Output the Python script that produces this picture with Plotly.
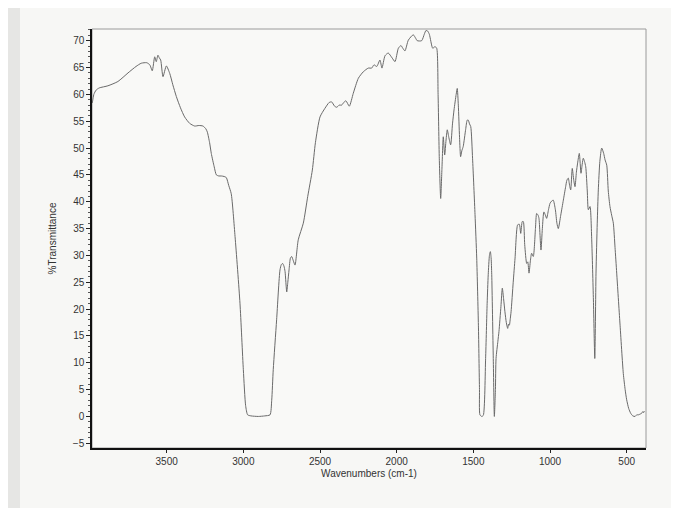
import plotly.graph_objects as go

wavenumbers = [
    3985, 3975, 3960, 3940, 3883, 3818, 3752, 3700, 3666, 3630, 3610, 3594, 3578, 3568, 3557, 3548,
    3539, 3524, 3502, 3480, 3460, 3437, 3410, 3383, 3350, 3317, 3290, 3263, 3245, 3235, 3220, 3209,
    3190, 3176, 3160, 3144, 3125, 3111, 3095, 3079, 3054, 3022, 3000, 2985, 2972, 2950, 2902, 2860,
    2826, 2815, 2805, 2783, 2761, 2752, 2744, 2735, 2728, 2717, 2710, 2702, 2693, 2685, 2674, 2663,
    2642, 2609, 2580, 2550, 2530, 2500, 2468, 2440, 2424, 2405, 2391, 2375, 2359, 2345, 2331, 2309,
    2283, 2250, 2218, 2185, 2163, 2148, 2130, 2109, 2096, 2076, 2055, 2030, 2011, 1989, 1972, 1960,
    1946, 1924, 1892, 1875, 1866, 1837, 1820, 1809, 1798, 1787, 1765, 1750, 1739, 1730, 1722, 1713,
    1705, 1696, 1687, 1678, 1670, 1660, 1648, 1636, 1626, 1612, 1605, 1598, 1590, 1583, 1575, 1566,
    1550, 1540, 1533, 1525, 1517, 1505, 1489, 1478, 1467, 1460, 1457, 1445, 1435, 1420, 1410, 1403,
    1395, 1389, 1384, 1380, 1370, 1363, 1356, 1352, 1340, 1333, 1320, 1311, 1303, 1294, 1285, 1276,
    1270, 1265, 1260, 1254, 1240, 1228, 1211, 1200, 1191, 1181, 1174, 1165, 1152, 1145, 1137, 1128,
    1120, 1109, 1095, 1087, 1078, 1072, 1059, 1050, 1040, 1030, 1022, 1010, 1000, 990, 979, 965,
    955, 946, 930, 913, 898, 890, 881, 872, 865, 855, 845, 837, 828, 820, 809, 798,
    790, 783, 775, 767, 757, 750, 739, 728, 717, 708, 700, 692, 685, 675, 663, 650,
    641, 630, 620, 609, 598, 587, 576, 565, 544, 522, 510, 500, 487, 474, 460, 445,
    435, 424, 415, 402, 395, 390, 385,
]

transmittance = [
    58.4, 60.0, 60.8, 61.2, 61.6, 62.4, 64.0, 65.2, 65.8, 65.9, 65.5, 64.4, 67.0, 66.1, 67.3, 66.8,
    66.4, 63.3, 65.3, 63.9, 61.8, 59.6, 57.5, 55.8, 54.6, 54.1, 54.2, 54.1, 53.6, 53.0, 51.0, 49.0,
    46.5, 45.0, 44.8, 44.8, 44.7, 44.5, 43.0, 41.5, 33.5, 21.1, 8.7, 2.0, 0.3, 0.1, 0.0, 0.1,
    0.3, 3.0, 8.7, 18.0, 27.3, 28.3, 28.5, 28.0, 27.0, 23.2, 25.0, 27.3, 29.5, 29.8, 29.0, 28.2,
    32.9, 36.0, 41.0, 45.9, 51.0, 55.8, 57.4, 58.5, 58.6, 57.8, 57.6, 58.0, 58.0, 58.5, 58.8, 57.8,
    60.2, 63.0, 64.2, 64.9, 64.9, 65.5, 65.2, 66.4, 64.9, 67.2, 67.7, 66.8, 66.1, 68.6, 69.1, 68.6,
    68.1, 70.1, 71.1, 70.4, 70.0, 70.0, 71.2, 71.9, 71.8, 71.2, 68.6, 68.9, 68.6, 60.0, 48.0, 40.6,
    46.0, 52.1, 48.7, 51.5, 53.4, 52.0, 50.6, 54.5, 57.1, 60.0, 61.1, 58.0, 52.0, 48.4, 49.5, 50.3,
    53.5, 55.2, 55.2, 54.5, 54.0, 48.0, 37.6, 29.5, 17.0, 5.0, 0.3, 0.0, 0.2, 10.8, 21.0, 26.4,
    30.0, 30.7, 29.5, 26.4, 10.8, 0.0, 5.0, 10.8, 14.0, 15.8, 20.5, 23.9, 22.0, 19.5, 17.5, 16.4,
    17.2, 17.0, 18.0, 19.5, 25.0, 29.5, 35.7, 35.8, 34.1, 36.3, 36.3, 32.0, 28.5, 28.8, 26.7, 29.0,
    30.4, 29.8, 35.0, 37.8, 37.5, 36.9, 31.0, 35.0, 38.1, 37.5, 36.9, 38.5, 39.7, 40.1, 40.3, 38.5,
    36.0, 35.0, 37.5, 40.3, 42.8, 44.0, 44.4, 43.0, 42.2, 46.2, 44.0, 42.8, 45.5, 47.2, 49.0, 45.3,
    47.0, 48.1, 47.5, 46.5, 42.0, 38.5, 39.1, 32.9, 21.7, 10.8, 26.7, 36.0, 42.2, 47.5, 50.0, 49.0,
    47.8, 46.8, 42.0, 39.1, 37.5, 36.0, 31.5, 26.7, 17.4, 8.0, 5.0, 3.1, 1.5, 0.6, 0.1, 0.0,
    0.3, 0.3, 0.4, 0.6, 0.9, 0.7, 1.0,
]

x_tick_values = [3500, 3000, 2500, 2000, 1500, 1000, 500]
y_tick_values = [-5, 0, 5, 10, 15, 20, 25, 30, 35, 40, 45, 50, 55, 60, 65, 70]

fig = go.Figure()
fig.add_trace(go.Scatter(
    x=wavenumbers, y=transmittance, mode="lines",
    line=dict(color="#6a6a6a", width=1, shape="spline", smoothing=0.6),
    hoverinfo="skip", showlegend=False,
))

font_family = "Liberation Sans, Arial, sans-serif"

fig.update_layout(
    width=671, height=500,
    margin=dict(l=84, r=33, t=21, b=60),
    paper_bgcolor="#f7f7f5",
    plot_bgcolor="#f9f9f7",
    font=dict(family=font_family, size=10, color="#333333"),
    xaxis=dict(
        range=[3987, 374],
        tickmode="array", tickvals=x_tick_values,
        ticks="outside", ticklen=3, tickcolor="#222", tickwidth=1,
        showgrid=False, zeroline=False,
        showline=True, linecolor="#111111", linewidth=1.5,
        title=dict(text="Wavenumbers (cm-1)", standoff=4, font=dict(size=10)),
        tickfont=dict(size=10),
    ),
    yaxis=dict(
        range=[-5.88, 72.18],
        tickmode="array", tickvals=y_tick_values,
        ticks="outside", ticklen=4, tickcolor="#222", tickwidth=1,
        minor=dict(ticks="outside", ticklen=2, dtick=1, tickcolor="#555"),
        showgrid=False, zeroline=False,
        showline=True, linecolor="#111111", linewidth=1.5,
        title=dict(text="%Transmittance", standoff=14, font=dict(size=10)),
        tickfont=dict(size=10),
    ),
    shapes=[
        dict(type="rect", xref="paper", yref="paper", x0=0, y0=0, x1=1, y1=1,
             line=dict(color="#9a9a9a", width=1), layer="below"),
        dict(type="rect", xref="paper", yref="paper", x0=-0.16, y0=-0.2, x1=-0.13, y1=1.1,
             line=dict(width=0), fillcolor="#e6e6e4", layer="below"),
    ],
)

fig.write_html("out.html")
